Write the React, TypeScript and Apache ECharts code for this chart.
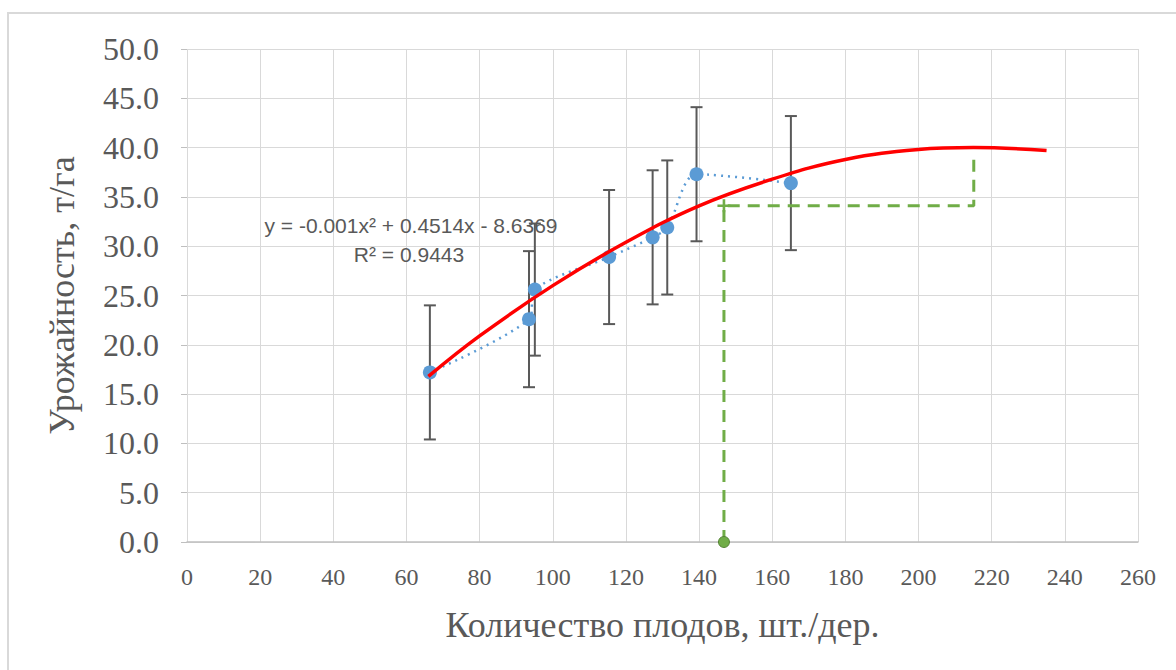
import React, { useEffect, useRef } from "react";
import * as echarts from "echarts";

// Observed points (fruit count vs yield) with error bar half-lengths
const fruitCount = [66.4, 93.5, 95.1, 115.4, 127.3, 131.3, 139.3, 165.1];
const yieldVals = [17.2, 22.6, 25.6, 28.9, 30.9, 31.9, 37.3, 36.4];
const errorVals = [6.8, 6.9, 6.7, 6.8, 6.8, 6.8, 6.8, 6.8];

// Polynomial trend line
const trendX = [66, 80, 100, 120, 140, 160, 180, 200, 215, 235];
const trendY = [16.8, 20.9, 26.0, 30.4, 34.1, 36.8, 38.8, 39.8, 40.0, 39.7];

// Green guide (optimum) lines
const guideX = [146.8, 146.8, 215.1, 215.1];
const guideY = [0, 34.1, 34.1, 39.0];

const xTicks = [0, 20, 40, 60, 80, 100, 120, 140, 160, 180, 200, 220, 240, 260];
const yTicks = [0, 5, 10, 15, 20, 25, 30, 35, 40, 45, 50];

const eqLine1 = "y = -0.001x² + 0.4514x - 8.6369";
const eqLine2 = "R² = 0.9443";

const xTitle = "Количество плодов, шт./дер.";
const yTitle = "Урожайность, т/га";

export default function App() {
  const ref = useRef<HTMLDivElement>(null);

  useEffect(() => {
    document.body.style.margin = "0";
    const chart = echarts.init(ref.current!, null, { renderer: "svg" });
    const serif = "'Liberation Serif', 'DejaVu Serif', serif";
    const textColor = "#595959";
    const gridColor = "#d9d9d9";

    const guideData: any[] = guideX.map((x, i) => {
      const item: any = { value: [x, guideY[i]] };
      if (i === 0) {
        item.symbol = "circle";
        item.symbolSize = 11;
        item.itemStyle = { color: "#70AD47", borderColor: "#548235", borderWidth: 1 };
      } else if (i === 1) {
        item.symbol = "path://M4,0 H6 V4 H10 V6 H6 V10 H4 V6 H0 V4 H4 Z";
        item.symbolSize = 13;
        item.itemStyle = { color: "#70AD47" };
      } else {
        item.symbol = "none";
      }
      return item;
    });

    const option: any = {
      animation: false,
      backgroundColor: "#ffffff",
      grid: { left: 187, right: 38, top: 49, bottom: 128, containLabel: false },
      xAxis: {
        type: "value",
        min: 0,
        max: 260,
        interval: 20,
        name: xTitle,
        nameLocation: "middle",
        nameGap: 65,
        nameTextStyle: { fontFamily: serif, fontSize: 36, color: textColor },
        axisLine: { show: true, lineStyle: { color: "#bfbfbf", width: 1.5 } },
        axisTick: { show: false },
        axisLabel: {
          fontFamily: serif,
          fontSize: 24,
          color: textColor,
          margin: 23,
          formatter: (v: number) => (xTicks.includes(v) ? String(v) : ""),
        },
        splitLine: { show: true, lineStyle: { color: gridColor, width: 1 } },
      },
      yAxis: {
        type: "value",
        min: 0,
        max: 50,
        interval: 5,
        name: yTitle,
        nameLocation: "middle",
        nameGap: 107,
        nameRotate: 90,
        nameTextStyle: { fontFamily: serif, fontSize: 36, color: textColor },
        axisLine: { show: false },
        axisTick: { show: true, length: 6, lineStyle: { color: "#bfbfbf" } },
        axisLabel: {
          fontFamily: serif,
          fontSize: 32,
          color: textColor,
          margin: 28,
          formatter: (v: number) => (yTicks.includes(v) ? v.toFixed(1) : ""),
        },
        splitLine: { show: true, lineStyle: { color: gridColor, width: 1 } },
      },
      graphic: [
        {
          type: "rect",
          shape: { x: 8, y: 13, width: 1300, height: 800 },
          style: { fill: "none", stroke: "#d9d9d9", lineWidth: 2 },
          silent: true,
          z: -10,
        },
        {
          type: "text",
          x: 411,
          y: 225,
          style: {
            text: eqLine1,
            fontFamily: "'Liberation Sans', Arial, sans-serif",
            fontSize: 21,
            fill: textColor,
            align: "center",
            verticalAlign: "middle",
          },
          z: 100,
        },
        {
          type: "text",
          x: 409,
          y: 254,
          style: {
            text: eqLine2,
            fontFamily: "'Liberation Sans', Arial, sans-serif",
            fontSize: 21,
            fill: textColor,
            align: "center",
            verticalAlign: "middle",
          },
          z: 100,
        },
      ],
      series: [
        {
          type: "custom",
          name: "errors",
          z: 2,
          renderItem: (params: any, api: any) => {
            const x = api.value(0);
            const y = api.value(1);
            const e = api.value(2);
            const top = api.coord([x, y + e]);
            const bot = api.coord([x, y - e]);
            const cap = 6;
            const st = { stroke: "#595959", lineWidth: 2 };
            return {
              type: "group",
              children: [
                { type: "line", shape: { x1: top[0], y1: top[1], x2: bot[0], y2: bot[1] }, style: st },
                { type: "line", shape: { x1: top[0] - cap, y1: top[1], x2: top[0] + cap, y2: top[1] }, style: st },
                { type: "line", shape: { x1: bot[0] - cap, y1: bot[1], x2: bot[0] + cap, y2: bot[1] }, style: st },
              ],
            };
          },
          encode: { x: 0, y: 1 },
          data: fruitCount.map((x, i) => [x, yieldVals[i], errorVals[i]]),
        },
        {
          type: "line",
          name: "observed",
          z: 3,
          smooth: 0.3,
          symbol: "circle",
          symbolSize: 14,
          itemStyle: { color: "#5B9BD5" },
          lineStyle: { color: "#5B9BD5", width: 2.5, type: [2, 5] },
          data: fruitCount.map((x, i) => [x, yieldVals[i]]),
        },
        {
          type: "line",
          name: "trend",
          z: 4,
          smooth: 0.4,
          symbol: "none",
          lineStyle: { color: "#FF0000", width: 3.5 },
          data: trendX.map((x, i) => [x, trendY[i]]),
        },
        {
          type: "line",
          name: "guide",
          z: 5,
          clip: false,
          lineStyle: { color: "#70AD47", width: 3, type: [12, 8] },
          data: guideData,
        },
      ],
    };
    chart.setOption(option);
    return () => chart.dispose();
  }, []);

  return <div ref={ref} style={{ width: 1176, height: 670 }} />;
}
